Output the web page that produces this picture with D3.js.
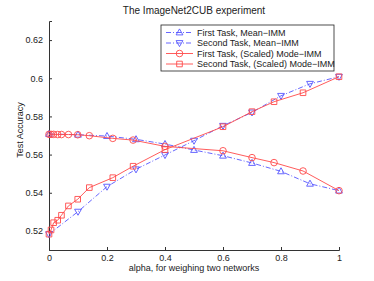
<!DOCTYPE html>
<html>
<head>
<meta charset="utf-8">
<script src="https://cdn.jsdelivr.net/npm/d3@7"></script>
<style>
  body { margin: 0; background: #fff; }
  text { font-family: "Liberation Sans", Arial, sans-serif; fill: #222; }
</style>
</head>
<body>
<div id="chart"></div>
<script>
var svgWidth = 374;
var svgHeight = 281;

var margin = { top: 21, right: 35, bottom: 31, left: 49 };
var width = 339 - margin.left;
var height = svgHeight - margin.top - margin.bottom;

// Mean-IMM, uniform alpha
var meanAlpha = [0, 0.1, 0.2, 0.3, 0.4, 0.5, 0.6, 0.7, 0.8, 0.9, 1];
var meanFirst = [0.5708, 0.5704, 0.5697, 0.5680, 0.5655, 0.5624, 0.5594, 0.5556, 0.5512, 0.5447, 0.5411];
var meanSecond = [0.5183, 0.5301, 0.5432, 0.5523, 0.5598, 0.5673, 0.5751, 0.5821, 0.5908, 0.5971, 0.6008];

// (Scaled) Mode-IMM, non-uniform alpha
var modeAlpha = [0, 0.007, 0.016, 0.03, 0.043, 0.067, 0.099, 0.139, 0.22, 0.29, 0.40, 0.6, 0.7, 0.776, 0.876, 1];
var modeFirst = [0.5706, 0.5706, 0.5706, 0.5705, 0.5705, 0.5705, 0.5704, 0.5699, 0.5685, 0.5676, 0.5643, 0.5620, 0.5584, 0.5558, 0.5514, 0.5411];
var modeSecond = [0.5183, 0.5205, 0.5243, 0.5256, 0.5282, 0.5331, 0.5366, 0.5427, 0.5479, 0.5539, 0.5626, 0.5746, 0.5825, 0.5877, 0.5924, 0.6008];

var xTicks = [0, 0.2, 0.4, 0.6, 0.8, 1];
var yTicks = [0.52, 0.54, 0.56, 0.58, 0.6, 0.62];

var seriesNames = ["First Task, Mean\u2212IMM", "Second Task, Mean\u2212IMM",
  "First Task, (Scaled) Mode\u2212IMM", "Second Task, (Scaled) Mode\u2212IMM"];

var blue = "#5555ff";
var red = "#ff4a4a";

var series = [
  { name: seriesNames[0], x: meanAlpha, y: meanFirst, color: blue, dash: "5,2,1,2", marker: "up" },
  { name: seriesNames[1], x: meanAlpha, y: meanSecond, color: blue, dash: "5,2,1,2", marker: "down" },
  { name: seriesNames[2], x: modeAlpha, y: modeFirst, color: red, dash: null, marker: "circle" },
  { name: seriesNames[3], x: modeAlpha, y: modeSecond, color: red, dash: null, marker: "square" }
];

var svg = d3.select("#chart")
  .append("svg")
  .attr("width", svgWidth)
  .attr("height", svgHeight);

var chartGroup = svg.append("g")
  .attr("transform", `translate(${margin.left}, ${margin.top})`);

var xScale = d3.scaleLinear().domain([0, 1]).range([0, width]);
var yScale = d3.scaleLinear().domain([0.51, 0.63]).range([height, 0]);

// axes with inward ticks
var bottomAxis = d3.axisBottom(xScale).tickValues(xTicks).tickSize(-3).tickPadding(6)
  .tickFormat(d => d === 0 ? "0" : d === 1 ? "1" : d3.format(".1f")(d));
var leftAxis = d3.axisLeft(yScale).tickValues(yTicks).tickSize(-3).tickPadding(6)
  .tickFormat(d => String(+d.toFixed(2)));

var gx = chartGroup.append("g")
  .attr("transform", `translate(0, ${height})`)
  .call(bottomAxis);
var gy = chartGroup.append("g").call(leftAxis);

[gx, gy].forEach(function(g) {
  g.select(".domain").attr("stroke", "#333");
  g.selectAll(".tick line").attr("stroke", "#333");
  g.selectAll(".tick text").attr("font-size", "9px").attr("fill", "#222")
    .style("font-family", "'Liberation Sans', Arial, sans-serif");
});
gx.selectAll(".tick text").attr("dy", "0.6em");

function markerPath(type) {
  if (type === "up") return "M0,-3.6L3.4,2.4L-3.4,2.4Z";
  if (type === "down") return "M0,3.6L3.4,-2.4L-3.4,-2.4Z";
  if (type === "square") return "M-2.8,-2.8H2.8V2.8H-2.8Z";
  return null;
}

function drawMarker(g, type, color) {
  if (type === "circle") {
    g.append("circle").attr("r", 3.3).attr("fill", "none").attr("stroke", color).attr("stroke-width", 0.9);
  } else {
    g.append("path").attr("d", markerPath(type)).attr("fill", "none").attr("stroke", color).attr("stroke-width", 0.9);
  }
}

var line = d3.line().x(d => xScale(d[0])).y(d => yScale(d[1]));

series.forEach(function(s) {
  var pts = s.x.map((v, i) => [v, s.y[i]]);
  chartGroup.append("path")
    .datum(pts)
    .attr("d", line)
    .attr("fill", "none")
    .attr("stroke", s.color)
    .attr("stroke-width", 0.9)
    .attr("stroke-dasharray", s.dash);
  pts.forEach(function(p) {
    var m = chartGroup.append("g").attr("transform", `translate(${xScale(p[0])}, ${yScale(p[1])})`);
    drawMarker(m, s.marker, s.color);
  });
});

// legend
var legend = svg.append("g").attr("transform", "translate(161, 25)");
legend.append("rect")
  .attr("width", 173).attr("height", 46)
  .attr("fill", "#fff").attr("stroke", "#222").attr("stroke-width", 0.8);
series.forEach(function(s, i) {
  var row = legend.append("g").attr("transform", `translate(0, ${7.5 + i * 10.5})`);
  row.append("line").attr("x1", 5).attr("x2", 32).attr("y1", 0).attr("y2", 0)
    .attr("stroke", s.color).attr("stroke-width", 0.9).attr("stroke-dasharray", s.dash);
  var m = row.append("g").attr("transform", "translate(18.5, 0)");
  drawMarker(m, s.marker, s.color);
  row.append("text").attr("x", 36).attr("y", 0).attr("dy", "0.35em")
    .attr("font-size", "9px").text(s.name);
});

// title and labels
svg.append("text")
  .attr("x", margin.left + width / 2).attr("y", 14)
  .attr("text-anchor", "middle").attr("font-size", "10px")
  .text("The ImageNet2CUB experiment");

svg.append("text")
  .attr("x", margin.left + width / 2).attr("y", 271)
  .attr("text-anchor", "middle").attr("font-size", "9px")
  .text("alpha, for weighing two networks");

svg.append("text")
  .attr("transform", "rotate(-90)")
  .attr("x", -130).attr("y", 23)
  .attr("text-anchor", "middle").attr("font-size", "9px")
  .text("Test Accuracy");
</script>
</body>
</html>
